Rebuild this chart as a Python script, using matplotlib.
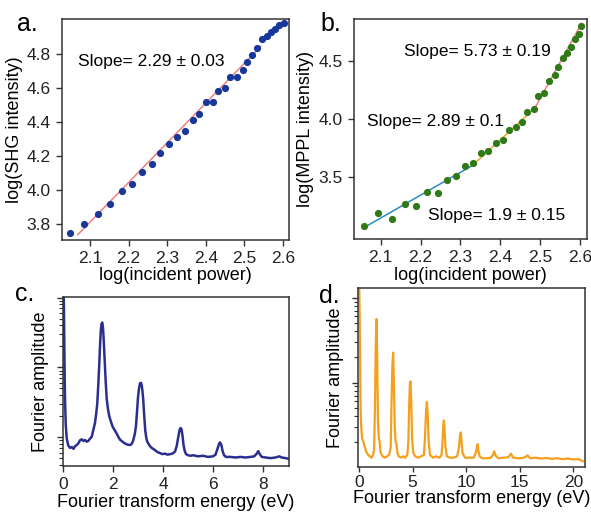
import matplotlib
matplotlib.use('Agg')
import matplotlib.pyplot as plt
from matplotlib.ticker import LogLocator, NullFormatter

plt.rcParams['font.family'] = ['Liberation Sans', 'DejaVu Sans']

# panel a: SHG power dependence
shg_logp = [2.048, 2.085, 2.120, 2.152, 2.182, 2.209, 2.235, 2.260, 2.282, 2.305,
            2.326, 2.346, 2.366, 2.382, 2.400, 2.418, 2.433, 2.450, 2.464, 2.482,
            2.496, 2.507, 2.520, 2.533, 2.545, 2.558, 2.569, 2.580, 2.591, 2.602]
shg_logi = [3.747, 3.800, 3.857, 3.918, 3.992, 4.035, 4.104, 4.155, 4.215, 4.268,
            4.314, 4.347, 4.414, 4.447, 4.518, 4.518, 4.584, 4.600, 4.663, 4.663,
            4.708, 4.753, 4.792, 4.835, 4.888, 4.904, 4.929, 4.949, 4.968, 4.982]
shg_fit_x = [2.068, 2.543]
shg_fit_y = [3.737, 4.845]
shg_slope = 'Slope= 2.29 ± 0.03'

# panel b: MPPL power dependence
mppl_logp = [2.058, 2.094, 2.129, 2.160, 2.189, 2.217, 2.243, 2.267, 2.290, 2.311,
             2.331, 2.351, 2.370, 2.389, 2.406, 2.422, 2.440, 2.454, 2.468, 2.484,
             2.495, 2.510, 2.523, 2.537, 2.546, 2.557, 2.569, 2.579, 2.589, 2.597, 2.604]
mppl_logi = [3.082, 3.197, 3.139, 3.267, 3.253, 3.373, 3.368, 3.479, 3.509, 3.601,
             3.624, 3.709, 3.729, 3.795, 3.817, 3.903, 3.932, 3.979, 4.060, 4.088,
             4.202, 4.227, 4.325, 4.376, 4.450, 4.521, 4.564, 4.621, 4.684, 4.735, 4.800]
mppl_fit_x = [[2.058, 2.330], [2.330, 2.487], [2.487, 2.604]]
mppl_fit_y = [[3.068, 3.601], [3.601, 4.094], [4.094, 4.821]]
mppl_slopes = ['Slope= 1.9 ± 0.15', 'Slope= 2.89 ± 0.1', 'Slope= 5.73 ± 0.19']

# panel c: Fourier spectrum (SHG)
c_energy = [0.02, 0.04, 0.06, 0.08, 0.11, 0.15, 0.21, 0.28, 0.35, 0.42, 0.48, 0.55,
            0.61, 0.68, 0.75, 0.82, 0.88, 0.95, 1.01, 1.08, 1.15, 1.22, 1.28, 1.33,
            1.37, 1.41, 1.45, 1.48, 1.51, 1.54, 1.57, 1.60, 1.63, 1.67, 1.71, 1.75,
            1.80, 1.85, 1.92, 1.99, 2.07, 2.15, 2.22, 2.28, 2.38, 2.48, 2.58, 2.68,
            2.75, 2.81, 2.87, 2.92, 2.96, 3.00, 3.04, 3.08, 3.12, 3.15, 3.18, 3.21,
            3.25, 3.29, 3.33, 3.37, 3.44, 3.51, 3.60, 3.68, 3.78, 3.88, 3.98, 4.08,
            4.18, 4.28, 4.38, 4.48, 4.55, 4.61, 4.66, 4.70, 4.74, 4.78, 4.82, 4.86,
            4.92, 5.00, 5.10, 5.20, 5.40, 5.60, 5.80, 6.00, 6.10, 6.18, 6.24, 6.28,
            6.33, 6.38, 6.44, 6.52, 6.70, 6.90, 7.10, 7.30, 7.50, 7.65, 7.75, 7.81,
            7.87, 7.95, 8.10, 8.30, 8.50, 8.65, 8.75, 8.90, 9.02]
c_amp = [150, 60, 12, 3.5, 1.5, 0.95, 0.76, 0.70, 0.72, 0.68, 0.74, 0.77,
         0.81, 0.90, 0.93, 0.88, 0.91, 0.86, 0.88, 0.95, 1.01, 1.3, 1.6, 2.2,
         3.0, 5.5, 11, 20, 33, 42, 44, 37, 24, 12, 6.0, 3.5,
         2.5, 2.0, 1.65, 1.4, 1.25, 1.12, 1.0, 0.92, 0.86, 0.81, 0.78, 0.77,
         0.80, 0.90, 1.1, 1.45, 2.3, 3.7, 5.0, 5.9, 6.0, 5.5, 4.5, 3.4,
         2.0, 1.25, 0.98, 0.86, 0.78, 0.72, 0.68, 0.65, 0.61, 0.59, 0.57, 0.58,
         0.56, 0.57, 0.58, 0.62, 0.75, 1.0, 1.25, 1.35, 1.3, 1.05, 0.78, 0.65,
         0.57, 0.55, 0.54, 0.55, 0.53, 0.54, 0.52, 0.53, 0.56, 0.68, 0.80, 0.84,
         0.78, 0.64, 0.55, 0.52, 0.52, 0.51, 0.52, 0.51, 0.52, 0.53, 0.58, 0.63,
         0.57, 0.52, 0.51, 0.50, 0.51, 0.53, 0.51, 0.50, 0.49]

# panel d: Fourier spectrum (MPPL)
d_energy = [0.02, 0.06, 0.10, 0.14, 0.20, 0.28, 0.40, 0.55, 0.70, 0.85, 1.00, 1.15,
            1.30, 1.40, 1.48, 1.55, 1.62, 1.69, 1.76, 1.84, 1.92, 2.00, 2.20, 2.40,
            2.60, 2.80, 2.95, 3.03, 3.11, 3.18, 3.25, 3.33, 3.41, 3.49, 3.57, 3.70,
            3.90, 4.10, 4.30, 4.50, 4.60, 4.68, 4.74, 4.80, 4.87, 4.95, 5.05, 5.25,
            5.50, 5.80, 6.05, 6.15, 6.25, 6.33, 6.41, 6.50, 6.62, 6.90, 7.20, 7.50,
            7.70, 7.79, 7.87, 7.92, 7.98, 8.07, 8.20, 8.50, 8.80, 9.15, 9.32, 9.43,
            9.50, 9.57, 9.67, 9.90, 10.30, 10.70, 10.92, 11.02, 11.07, 11.13, 11.25, 11.50,
            11.90, 12.30, 12.50, 12.62, 12.74, 13.00, 13.50, 13.95, 14.18, 14.38, 14.90, 15.40,
            15.74, 15.98, 16.50, 17.00, 17.50, 18.00, 18.50, 19.00, 19.50, 20.00, 20.50, 20.90]
d_amp = [12.5, 5.0, 1.5, 0.5, 0.30, 0.22, 0.20, 0.17, 0.15, 0.14, 0.135, 0.13,
         0.14, 0.16, 0.5, 2.5, 5.6, 2.0, 0.35, 0.22, 0.20, 0.15, 0.135, 0.13,
         0.135, 0.14, 0.17, 0.6, 1.6, 2.25, 1.0, 0.30, 0.20, 0.19, 0.15, 0.135,
         0.13, 0.135, 0.13, 0.14, 0.20, 0.55, 0.95, 1.03, 0.60, 0.22, 0.15, 0.135,
         0.13, 0.135, 0.14, 0.22, 0.45, 0.59, 0.42, 0.20, 0.14, 0.13, 0.135, 0.13,
         0.14, 0.20, 0.32, 0.357, 0.28, 0.17, 0.135, 0.13, 0.13, 0.135, 0.17, 0.24,
         0.258, 0.20, 0.145, 0.13, 0.13, 0.13, 0.15, 0.18, 0.188, 0.16, 0.135, 0.128,
         0.128, 0.13, 0.14, 0.155, 0.138, 0.128, 0.13, 0.132, 0.145, 0.13, 0.128, 0.13,
         0.138, 0.128, 0.13, 0.127, 0.129, 0.126, 0.128, 0.125, 0.127, 0.124, 0.125, 0.118]

spine_col = '#333333'
fs_tick = 12.5
fs_label = 13


def style_axes(ax):
    for s in ax.spines.values():
        s.set_color(spine_col)
        s.set_linewidth(1.1)
    ax.tick_params(which='both', direction='out', colors=spine_col,
                   labelcolor='#222222', labelsize=fs_tick, top=False, right=False)
    ax.tick_params(which='major', length=4.5, width=1)
    ax.tick_params(which='minor', length=2.8, width=0.8)


def log_ticks(ax):
    ax.yaxis.set_major_locator(LogLocator(base=10))
    ax.yaxis.set_minor_locator(LogLocator(base=10, subs=range(2, 10), numticks=20))
    ax.yaxis.set_major_formatter(NullFormatter())
    ax.yaxis.set_minor_formatter(NullFormatter())


fig = plt.figure(figsize=(5.91, 5.12), dpi=100)

# a.
ax_a = fig.add_axes([0.1049, 0.5313, 0.3841, 0.4316])
ax_a.plot(shg_fit_x, shg_fit_y, color='#f08080', lw=1.1, zorder=1)
ax_a.plot(shg_logp, shg_logi, 'o', color='#17389a', ms=5.2, mec='none', zorder=2)
ax_a.set_xlim(2.027, 2.616)
ax_a.set_ylim(3.706, 5.006)
ax_a.set_xticks([2.1, 2.2, 2.3, 2.4, 2.5, 2.6])
ax_a.set_yticks([3.8, 4.0, 4.2, 4.4, 4.6, 4.8])
ax_a.set_xlabel('log(incident power)', fontsize=fs_label, labelpad=1)
ax_a.set_ylabel('log(SHG intensity)', fontsize=fs_label, labelpad=3)
ax_a.text(2.068, 4.756, shg_slope, fontsize=fs_tick, ha='left', va='center')
style_axes(ax_a)

# b.
ax_b = fig.add_axes([0.599, 0.5332, 0.3942, 0.4297])
for fx, fy, col in zip(mppl_fit_x, mppl_fit_y, ['#2b8cbe', '#f5a623', '#f08080']):
    ax_b.plot(fx, fy, color=col, lw=1.1, zorder=1)
ax_b.plot(mppl_logp, mppl_logi, 'o', color='#2f7a16', ms=5.2, mec='none', zorder=2)
ax_b.set_xlim(2.033, 2.618)
ax_b.set_ylim(2.97, 4.86)
ax_b.set_xticks([2.1, 2.2, 2.3, 2.4, 2.5, 2.6])
ax_b.set_yticks([3.5, 4.0, 4.5])
ax_b.set_xlabel('log(incident power)', fontsize=fs_label, labelpad=1)
ax_b.set_ylabel('log(MPPL intensity)', fontsize=fs_label, labelpad=3)
ax_b.text(2.219, 3.175, mppl_slopes[0], fontsize=fs_tick, ha='left', va='center')
ax_b.text(2.066, 3.979, mppl_slopes[1], fontsize=fs_tick, ha='left', va='center')
ax_b.text(2.158, 4.583, mppl_slopes[2], fontsize=fs_tick, ha='left', va='center')
style_axes(ax_b)

# c.
ax_c = fig.add_axes([0.1066, 0.0898, 0.3824, 0.3301])
ax_c.plot(c_energy, c_amp, color='#2a2f8e', lw=1.8)
ax_c.set_yscale('log')
ax_c.set_xlim(0, 9.04)
ax_c.set_ylim(0.385, 102)
ax_c.set_xticks([0, 2, 4, 6, 8])
ax_c.set_xlabel('Fourier transform energy (eV)', fontsize=fs_label, labelpad=1)
ax_c.set_ylabel('Fourier amplitude', fontsize=fs_label, labelpad=2)
style_axes(ax_c)
log_ticks(ax_c)

# d.
ax_d = fig.add_axes([0.6058, 0.0879, 0.3841, 0.3496])
ax_d.plot(d_energy, d_amp, color='#f5a01c', lw=1.6)
ax_d.set_yscale('log')
ax_d.set_xlim(-0.1, 21.1)
ax_d.set_ylim(0.101, 13)
ax_d.set_xticks([0, 5, 10, 15, 20])
ax_d.set_xlabel('Fourier transform energy (eV)', fontsize=fs_label, labelpad=0)
ax_d.set_ylabel('Fourier amplitude', fontsize=fs_label, labelpad=2)
style_axes(ax_d)
ax_d.tick_params(axis='x', which='major', length=3.5, pad=2.5)
log_ticks(ax_d)

# panel letters
for label, x, y in [('a.', 27, 31), ('b.', 331, 31), ('c.', 25, 301), ('d.', 329, 303)]:
    fig.text(x / 591, 1 - y / 512, label, fontsize=18, ha='center', va='baseline')

fig.savefig('out.png', dpi=100)
